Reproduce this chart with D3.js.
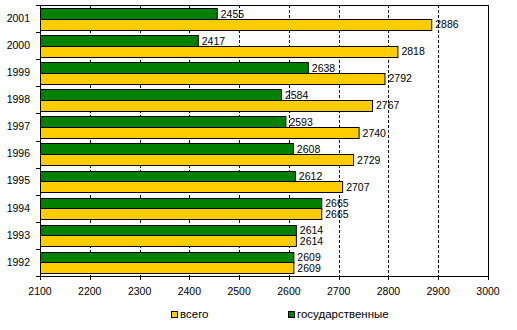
<!DOCTYPE html>
<html><head><meta charset="utf-8">
<script src="https://cdn.jsdelivr.net/npm/d3@7"></script>
<style>body{margin:0;background:#fff}svg{display:block}text{font-family:"Liberation Sans",Arial,sans-serif;font-size:10.5px;fill:#000}</style>
</head><body>
<svg id="c" width="517" height="330"></svg>
<script>
const years = ["2001","2000","1999","1998","1997","1996","1995","1994","1993","1992"];
const gos   = [2455,2417,2638,2584,2593,2608,2612,2665,2614,2609];
const vsego = [2886,2818,2792,2767,2740,2729,2707,2665,2614,2609];
const xTicks = [2100,2200,2300,2400,2500,2600,2700,2800,2900,3000];
const seriesNames = ["всего","государственные"];
const colors = {gos:"#008000", vsego:"#FFCC00"};

const svg = d3.select("#c");
const L=40,R=488,T=5,B=276;
const x = d3.scaleLinear().domain([2100,3000]).range([L,R]);
const y = d3.scaleBand().domain(years).range([T,B]).paddingInner(0.22).paddingOuter(0.11);
const sub = d3.scaleBand().domain(["gos","vsego"]).range([0,y.bandwidth()]);

// gridlines
svg.append("g").selectAll("line").data(xTicks.slice(1,-1)).join("line")
  .attr("x1",d=>Math.round(x(d))+0.5).attr("x2",d=>Math.round(x(d))+0.5)
  .attr("y1",T).attr("y2",B).attr("stroke","#000").attr("stroke-dasharray","3,2");

// frame
svg.append("rect").attr("x",L+0.5).attr("y",T+0.5).attr("width",R-L).attr("height",B-T)
  .attr("fill","none").attr("stroke","#000");

const rows = years.map((yr,i)=>({yr, gos:gos[i], vsego:vsego[i]}));
const g = svg.append("g");
rows.forEach(r=>{
  ["gos","vsego"].forEach(k=>{
    const y0 = y(r.yr)+sub(k);
    g.append("rect").attr("x",L+0.5).attr("y",Math.round(y0)+0.5)
      .attr("width",x(r[k])-L).attr("height",Math.round(sub.bandwidth()))
      .attr("fill",colors[k]).attr("stroke","#000");
    g.append("text").attr("x",x(r[k])+4).attr("y",y0+sub.bandwidth()/2+1.5)
      .attr("dominant-baseline","middle").text(r[k]);
  });
});

// y axis
const ya = svg.append("g");
years.forEach(yr=>{
  ya.append("text").attr("x",30).attr("y",y(yr)+y.bandwidth()/2+0.5)
    .attr("text-anchor","end").attr("dominant-baseline","middle").text(yr);
});
const bounds = years.map(yr=>y(yr)-y.step()*y.paddingInner()/2);
bounds.push(B);
bounds[0]=T;
ya.selectAll("line").data(bounds).join("line")
  .attr("x1",36).attr("x2",L).attr("y1",d=>Math.round(d)+0.5).attr("y2",d=>Math.round(d)+0.5)
  .attr("stroke","#000");

// x axis
const xa = svg.append("g");
xa.selectAll("line").data(xTicks).join("line")
  .attr("x1",d=>Math.round(x(d))+0.5).attr("x2",d=>Math.round(x(d))+0.5)
  .attr("y1",B).attr("y2",B+4).attr("stroke","#000");
xa.selectAll("text").data(xTicks).join("text")
  .attr("x",d=>x(d)).attr("y",292).attr("text-anchor","middle").attr("dominant-baseline","middle").text(d=>d);

// legend
const leg = [{n:seriesNames[0],c:colors.vsego,x:171},{n:seriesNames[1],c:colors.gos,x:288}];
leg.forEach(l=>{
  svg.append("rect").attr("x",l.x+0.5).attr("y",311.5).attr("width",6).attr("height",6)
    .attr("fill",l.c).attr("stroke","#000");
  svg.append("text").attr("x",l.x+9).attr("y",315).attr("dominant-baseline","middle")
    .style("font-size","11.5px").text(l.n);
});
</script>
</body></html>
